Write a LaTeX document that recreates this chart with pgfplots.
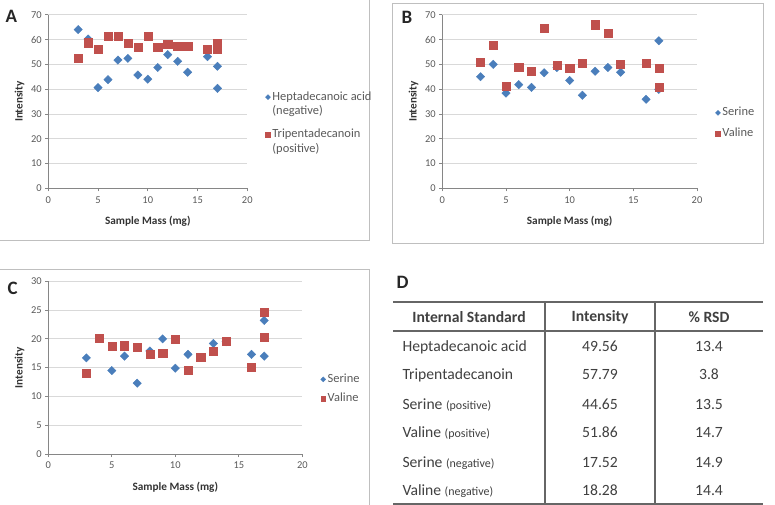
\documentclass[border=0pt]{standalone}
\usepackage{fontspec}
\setmainfont{Carlito}
\usepackage{pgfplots}
\pgfplotsset{compat=1.18}

\definecolor{serblue}{RGB}{74,126,187}
\definecolor{valred}{RGB}{192,80,77}
\definecolor{gridgray}{RGB}{217,217,217}
\definecolor{axgray}{RGB}{134,134,134}
\definecolor{txtgray}{RGB}{89,89,89}
\definecolor{tabgray}{RGB}{64,64,64}
\definecolor{framegray}{RGB}{191,191,191}

\pgfplotsset{
  panel/.style={
    scale only axis,
    xmin=0, xmax=20, ymin=0,
    xtick={0,5,...,20},
    axis x line*=bottom, axis y line*=left,
    ymajorgrids, grid style={gridgray, line width=0.8bp},
    axis line style={axgray, line width=0.8bp},
    tick style={axgray, line width=0.8bp}, tick align=outside, major tick length=3bp,
    ticklabel style={font=\fontsize{10.5}{12}\selectfont, text=txtgray},
    xticklabel style={yshift=-1.5bp},
    /pgf/number format/assume math mode=true,
    xlabel={Sample Mass (mg)}, ylabel={Intensity},
    label style={font=\fontsize{11.3}{13}\selectfont\bfseries, text=black!80},
    xlabel style={yshift=-6bp},
    legend style={draw=none, fill=none, font=\fontsize{12.5}{14}\selectfont,
      text=txtgray, row sep=6bp,
      cells={anchor=base west, text height=9bp, text depth=3bp, inner ysep=1bp, inner xsep=4bp},
      at={(1.06,0.38)}, anchor=west},
    legend image post style={yshift=3bp, every mark/.append style={scale=0.6}},
  },
  hepta/.style={only marks, mark=square*, mark size=2.95bp,
    mark options={rotate=45, fill=serblue, draw=serblue}},
  tri/.style={only marks, mark=square*, mark size=4.1bp,
    mark options={fill=valred, draw=valred}},
}

\begin{document}
\begin{tikzpicture}
\useasboundingbox (0,0) rectangle (775bp,-505bp);

% panel frames
\draw[framegray, line width=0.8bp] (-1bp,-240bp) -- (369bp,-240bp) -- (369bp,1bp);
\draw[framegray, line width=0.8bp] (392bp,-243bp) rectangle (763bp,-3bp);
\draw[framegray, line width=0.8bp] (-1bp,-269bp) -- (369bp,-269bp) -- (369bp,-506bp);

% A
\begin{axis}[panel, at={(48.3bp,-188.3bp)}, anchor=south west,
  width=199bp, height=173.6bp, ymax=70, ytick={0,10,...,70},
  legend style={at={(1.045,0.38)}, row sep=0bp}]
\addplot[hepta] coordinates {
  (3,64.0) (4,60.2) (5,40.6) (6,43.8) (7,51.7) (8,52.4) (9,45.7) (10,44.0)
  (11,48.7) (12,53.9) (13,51.2) (14,46.8) (16,53.1) (17,49.2) (17,40.3)};
\addlegendentry{Heptadecanoic acid}
\addlegendimage{empty legend}
\addlegendentry[text depth=10bp]{(negative)}
\addplot[tri] coordinates {
  (3,52.6) (4,58.7) (5,56.0) (6,61.3) (7,61.3) (8,58.6) (9,57.0) (10,61.4)
  (11,57.0) (12,58.1) (13,57.4) (14,57.4) (16,56.2) (17,58.5) (17,56.2)};
\addlegendentry{Tripentadecanoin}
\addlegendimage{empty legend}
\addlegendentry{(positive)}
\end{axis}

% B
\begin{axis}[panel, at={(442.3bp,-188.3bp)}, anchor=south west,
  width=254.7bp, height=173.6bp, ymax=70, ytick={0,10,...,70}]
\addplot[hepta] coordinates {
  (3,45.0) (4,50.0) (5,38.4) (6,41.8) (7,40.7) (8,46.6) (9,48.7) (10,43.5)
  (11,37.5) (12,47.2) (13,48.7) (14,46.8) (16,35.9) (17,59.5) (17,39.9)};
\addlegendentry{Serine}
\addplot[tri] coordinates {
  (3,50.8) (4,57.7) (5,41.1) (6,48.9) (7,47.2) (8,64.7) (9,49.7) (10,48.5)
  (11,50.5) (12,66.0) (13,62.6) (14,50.0) (16,50.3) (17,48.5) (17,40.7)};
\addlegendentry{Valine}
\end{axis}

% C
\begin{axis}[panel, at={(48.3bp,-454bp)}, anchor=south west,
  width=254bp, height=172.7bp, ymax=30, ytick={0,5,...,30},
  legend style={row sep=5bp}]
\addplot[hepta] coordinates {
  (3,16.7) (5,14.5) (6,17.0) (7,12.3) (8,17.9) (9,20.0) (10,14.9)
  (11,17.3) (13,19.2) (14,19.5) (16,17.3) (17,23.2) (17,17.0)};
\addlegendentry{Serine}
\addplot[tri] coordinates {
  (3,14.1) (4,20.1) (5,18.7) (6,18.8) (7,18.6) (8,17.4) (9,17.5) (10,20.0)
  (11,14.5) (12,16.8) (13,17.9) (14,19.6) (16,15.1) (17,24.7) (17,20.3)};
\addlegendentry{Valine}
\end{axis}

% panel letters
\begin{scope}[every node/.style={font=\fontsize{19}{20}\selectfont\bfseries, text=black!85, anchor=west}]
\node at (2bp,-16bp) {A};
\node at (398bp,-17bp) {B};
\node at (4bp,-288bp) {C};
\node at (393bp,-282bp) {D};
\end{scope}

% table D
\draw[gray!80!black, line width=1.8bp] (393bp,-302bp) -- (763bp,-302bp);
\draw[gray!80!black, line width=1.5bp] (393bp,-331bp) -- (763bp,-331bp);
\draw[gray!80!black, line width=1.8bp] (393bp,-504bp) -- (763bp,-504bp);
\draw[gray!80!black, line width=1.2bp] (545bp,-302bp) -- (545bp,-504bp);
\draw[gray!80!black, line width=1.2bp] (655bp,-302bp) -- (655bp,-504bp);
\begin{scope}[every node/.style={font=\fontsize{15.7}{17}\selectfont, text=tabgray}]
\node[font=\fontsize{15.7}{17}\selectfont\bfseries] at (469bp,-317bp) {Internal Standard};
\node[font=\fontsize{15.7}{17}\selectfont\bfseries] at (600bp,-317bp) {Intensity};
\node[font=\fontsize{15.7}{17}\selectfont\bfseries] at (709bp,-317bp) {\% RSD};
\foreach \y/\name/\inten/\rsd in {
  346/{Heptadecanoic acid}/49.56/13.4,
  374/{Tripentadecanoin}/57.79/3.8,
  404/{Serine {\fontsize{12}{13}\selectfont(positive)}}/44.65/13.5,
  432/{Valine {\fontsize{12}{13}\selectfont(positive)}}/51.86/14.7,
  462/{Serine {\fontsize{12}{13}\selectfont(negative)}}/17.52/14.9,
  490/{Valine {\fontsize{12}{13}\selectfont(negative)}}/18.28/14.4} {
  \node[anchor=base west] at (399bp,-\y bp-5.5bp) {\name};
  \node[anchor=base] at (600bp,-\y bp-5.5bp) {\inten};
  \node[anchor=base] at (709bp,-\y bp-5.5bp) {\rsd};
}
\end{scope}
\end{tikzpicture}
\end{document}
